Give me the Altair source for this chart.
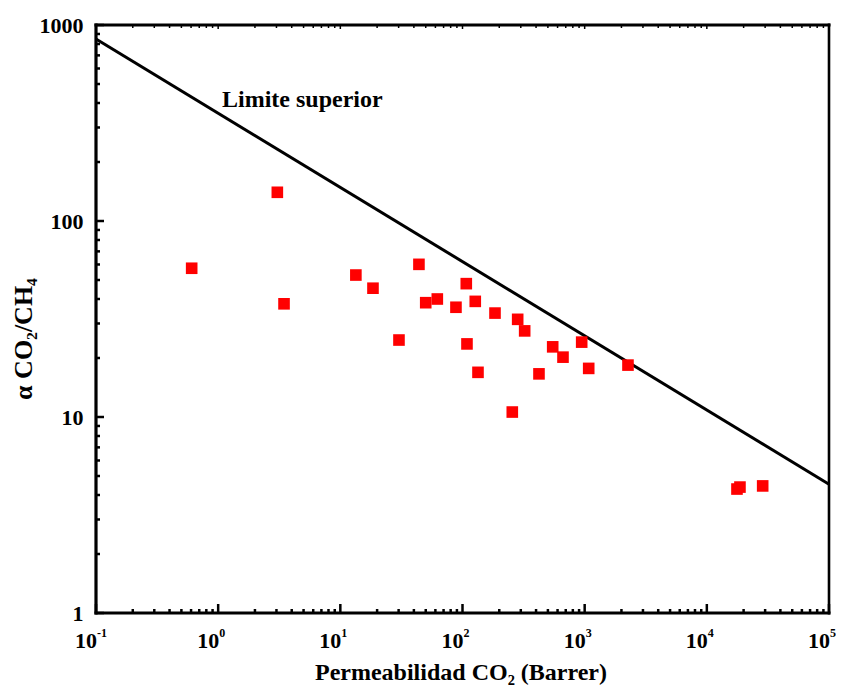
import altair as alt
import pandas as pd

# Data
perm = [0.607, 3.05, 3.46, 13.4, 18.5, 30.2, 44.0, 50.0, 62.2, 88.4, 107.4, 108.8,
        127.2, 133.9, 184.5, 255.6, 282.9, 322.8, 422.7, 547.4, 664.6, 945.4, 1079,
        2262, 17650, 18670, 28650]
alpha = [57.4, 140.1, 37.8, 53.0, 45.4, 24.7, 60.1, 38.3, 40.0, 36.3, 47.9, 23.6,
         38.9, 16.9, 33.9, 10.6, 31.5, 27.5, 16.6, 22.8, 20.2, 24.1, 17.7,
         18.4, 4.29, 4.39, 4.45]

bound_x = [0.1, 1e5]
bound_y = [848, 4.54]

x_exps = [-1, 0, 1, 2, 3, 4, 5]
y_major = [1, 10, 100, 1000]
sup_map = {-1: "-1", 0: "0", 1: "1", 2: "2", 3: "3", 4: "4", 5: "5"}

W, H = 733, 588
FONT = "Liberation Serif"

xscale = alt.Scale(type="log", domain=[0.1, 1e5], nice=False)
yscale = alt.Scale(type="log", domain=[1, 1000], nice=False)
yaxis = alt.Axis(values=y_major, ticks=False, domain=False, grid=False, labelFont=FONT,
                 labelFontSize=22, labelFontWeight="bold", labelColor="black",
                 labelPadding=13, title=None, format="d")

pts = pd.DataFrame({"p": perm, "a": alpha})
bound = pd.DataFrame({"p": bound_x, "a": bound_y})

x_major_vals = [10.0 ** e for e in x_exps]
x_minor_vals = [m * 10.0 ** e for e in x_exps[:-1] for m in range(2, 10)]
y_minor_vals = [m * v for v in y_major[:-1] for m in range(2, 10)]

xmaj = pd.DataFrame({"p": x_major_vals})
xmin = pd.DataFrame({"p": x_minor_vals})
ymaj = pd.DataFrame({"a": y_major})
ymin = pd.DataFrame({"a": y_minor_vals})

lab = pd.DataFrame({"p": x_major_vals, "base": ["10"] * len(x_exps),
                    "exp": [sup_map[e] for e in x_exps]})

X = lambda: alt.X("p:Q", scale=xscale, axis=None)
Y = lambda: alt.Y("a:Q", scale=yscale, axis=yaxis)

one = pd.DataFrame({"k": [0]})

line = alt.Chart(bound).mark_line(color="black", strokeWidth=3).encode(x=X(), y=Y())

points = alt.Chart(pts).mark_square(color="#ff0000", size=135, opacity=1).encode(x=X(), y=Y())

left_major = alt.Chart(ymaj).mark_rule(color="black", strokeWidth=2.5).encode(
    y=Y(), x=alt.value(0), x2=alt.value(8))
left_minor = alt.Chart(ymin).mark_rule(color="black", strokeWidth=2.5).encode(
    y=Y(), x=alt.value(0), x2=alt.value(4))
bot_major = alt.Chart(xmaj).mark_rule(color="black", strokeWidth=2.5).encode(
    x=X(), y=alt.value(H), y2=alt.value(H - 9))
bot_minor = alt.Chart(xmin).mark_rule(color="black", strokeWidth=2.5).encode(
    x=X(), y=alt.value(H), y2=alt.value(H - 4))
top_major = alt.Chart(xmaj).mark_rule(color="black", strokeWidth=1.5).encode(
    x=X(), y=alt.value(0), y2=alt.value(4))
top_minor = alt.Chart(xmin).mark_rule(color="black", strokeWidth=1.5).encode(
    x=X(), y=alt.value(0), y2=alt.value(3))

frame_top = alt.Chart(one).mark_rule(color="black", strokeWidth=3.2).encode(
    x=alt.value(-1.5), x2=alt.value(W + 1.5), y=alt.value(0))
frame_bot = alt.Chart(one).mark_rule(color="black", strokeWidth=3.2).encode(
    x=alt.value(-1.5), x2=alt.value(W + 1.5), y=alt.value(H))
frame_left = alt.Chart(one).mark_rule(color="black", strokeWidth=3.2).encode(
    x=alt.value(0), y=alt.value(-1.5), y2=alt.value(H + 1.5))
frame_right = alt.Chart(one).mark_rule(color="black", strokeWidth=2.6).encode(
    x=alt.value(W), y=alt.value(-1.5), y2=alt.value(H + 1.5))

xlab_base = alt.Chart(lab).mark_text(font=FONT, fontSize=22, fontWeight="bold", color="black",
                                     align="right", baseline="alphabetic", dx=1).encode(
    x=X(), y=alt.value(H + 35), text="base:N")
xlab_exp = alt.Chart(lab).mark_text(font=FONT, fontSize=12, fontWeight="bold", color="black",
                                    align="left", baseline="alphabetic", dx=1).encode(
    x=X(), y=alt.value(H + 24), text="exp:N")

label_line = alt.Chart(pd.DataFrame({"p": [1.075], "a": [414], "t": ["Limite superior"]})).mark_text(
    font=FONT, fontSize=24, fontWeight="bold", color="black", align="left", baseline="middle").encode(
    x=X(), y=Y(), text="t:N")

xtitle = alt.Chart(one).mark_text(font=FONT, fontSize=24, fontWeight="bold", color="black",
                                  align="center", baseline="alphabetic").encode(
    x=alt.value(365), y=alt.value(655), text=alt.value("Permeabilidad CO₂ (Barrer)"))
ytitle = alt.Chart(one).mark_text(font=FONT, fontSize=26, fontWeight="bold", color="black",
                                  align="center", baseline="alphabetic", angle=270).encode(
    x=alt.value(-64), y=alt.value(314), text=alt.value("α CO₂/CH₄"))

chart = alt.layer(
    line, left_major, left_minor, bot_major, bot_minor, top_major, top_minor,
    frame_top, frame_bot, frame_left, frame_right,
    points, xlab_base, xlab_exp, label_line, xtitle, ytitle
).properties(
    width=W, height=H,
    autosize=alt.AutoSizeParams(type="none"),
    padding={"left": 88, "top": 17, "right": 7, "bottom": 75},
).configure_view(stroke=None).configure(background="white")

chart.save("out.html", embed_options={"renderer": "svg", "actions": False})
